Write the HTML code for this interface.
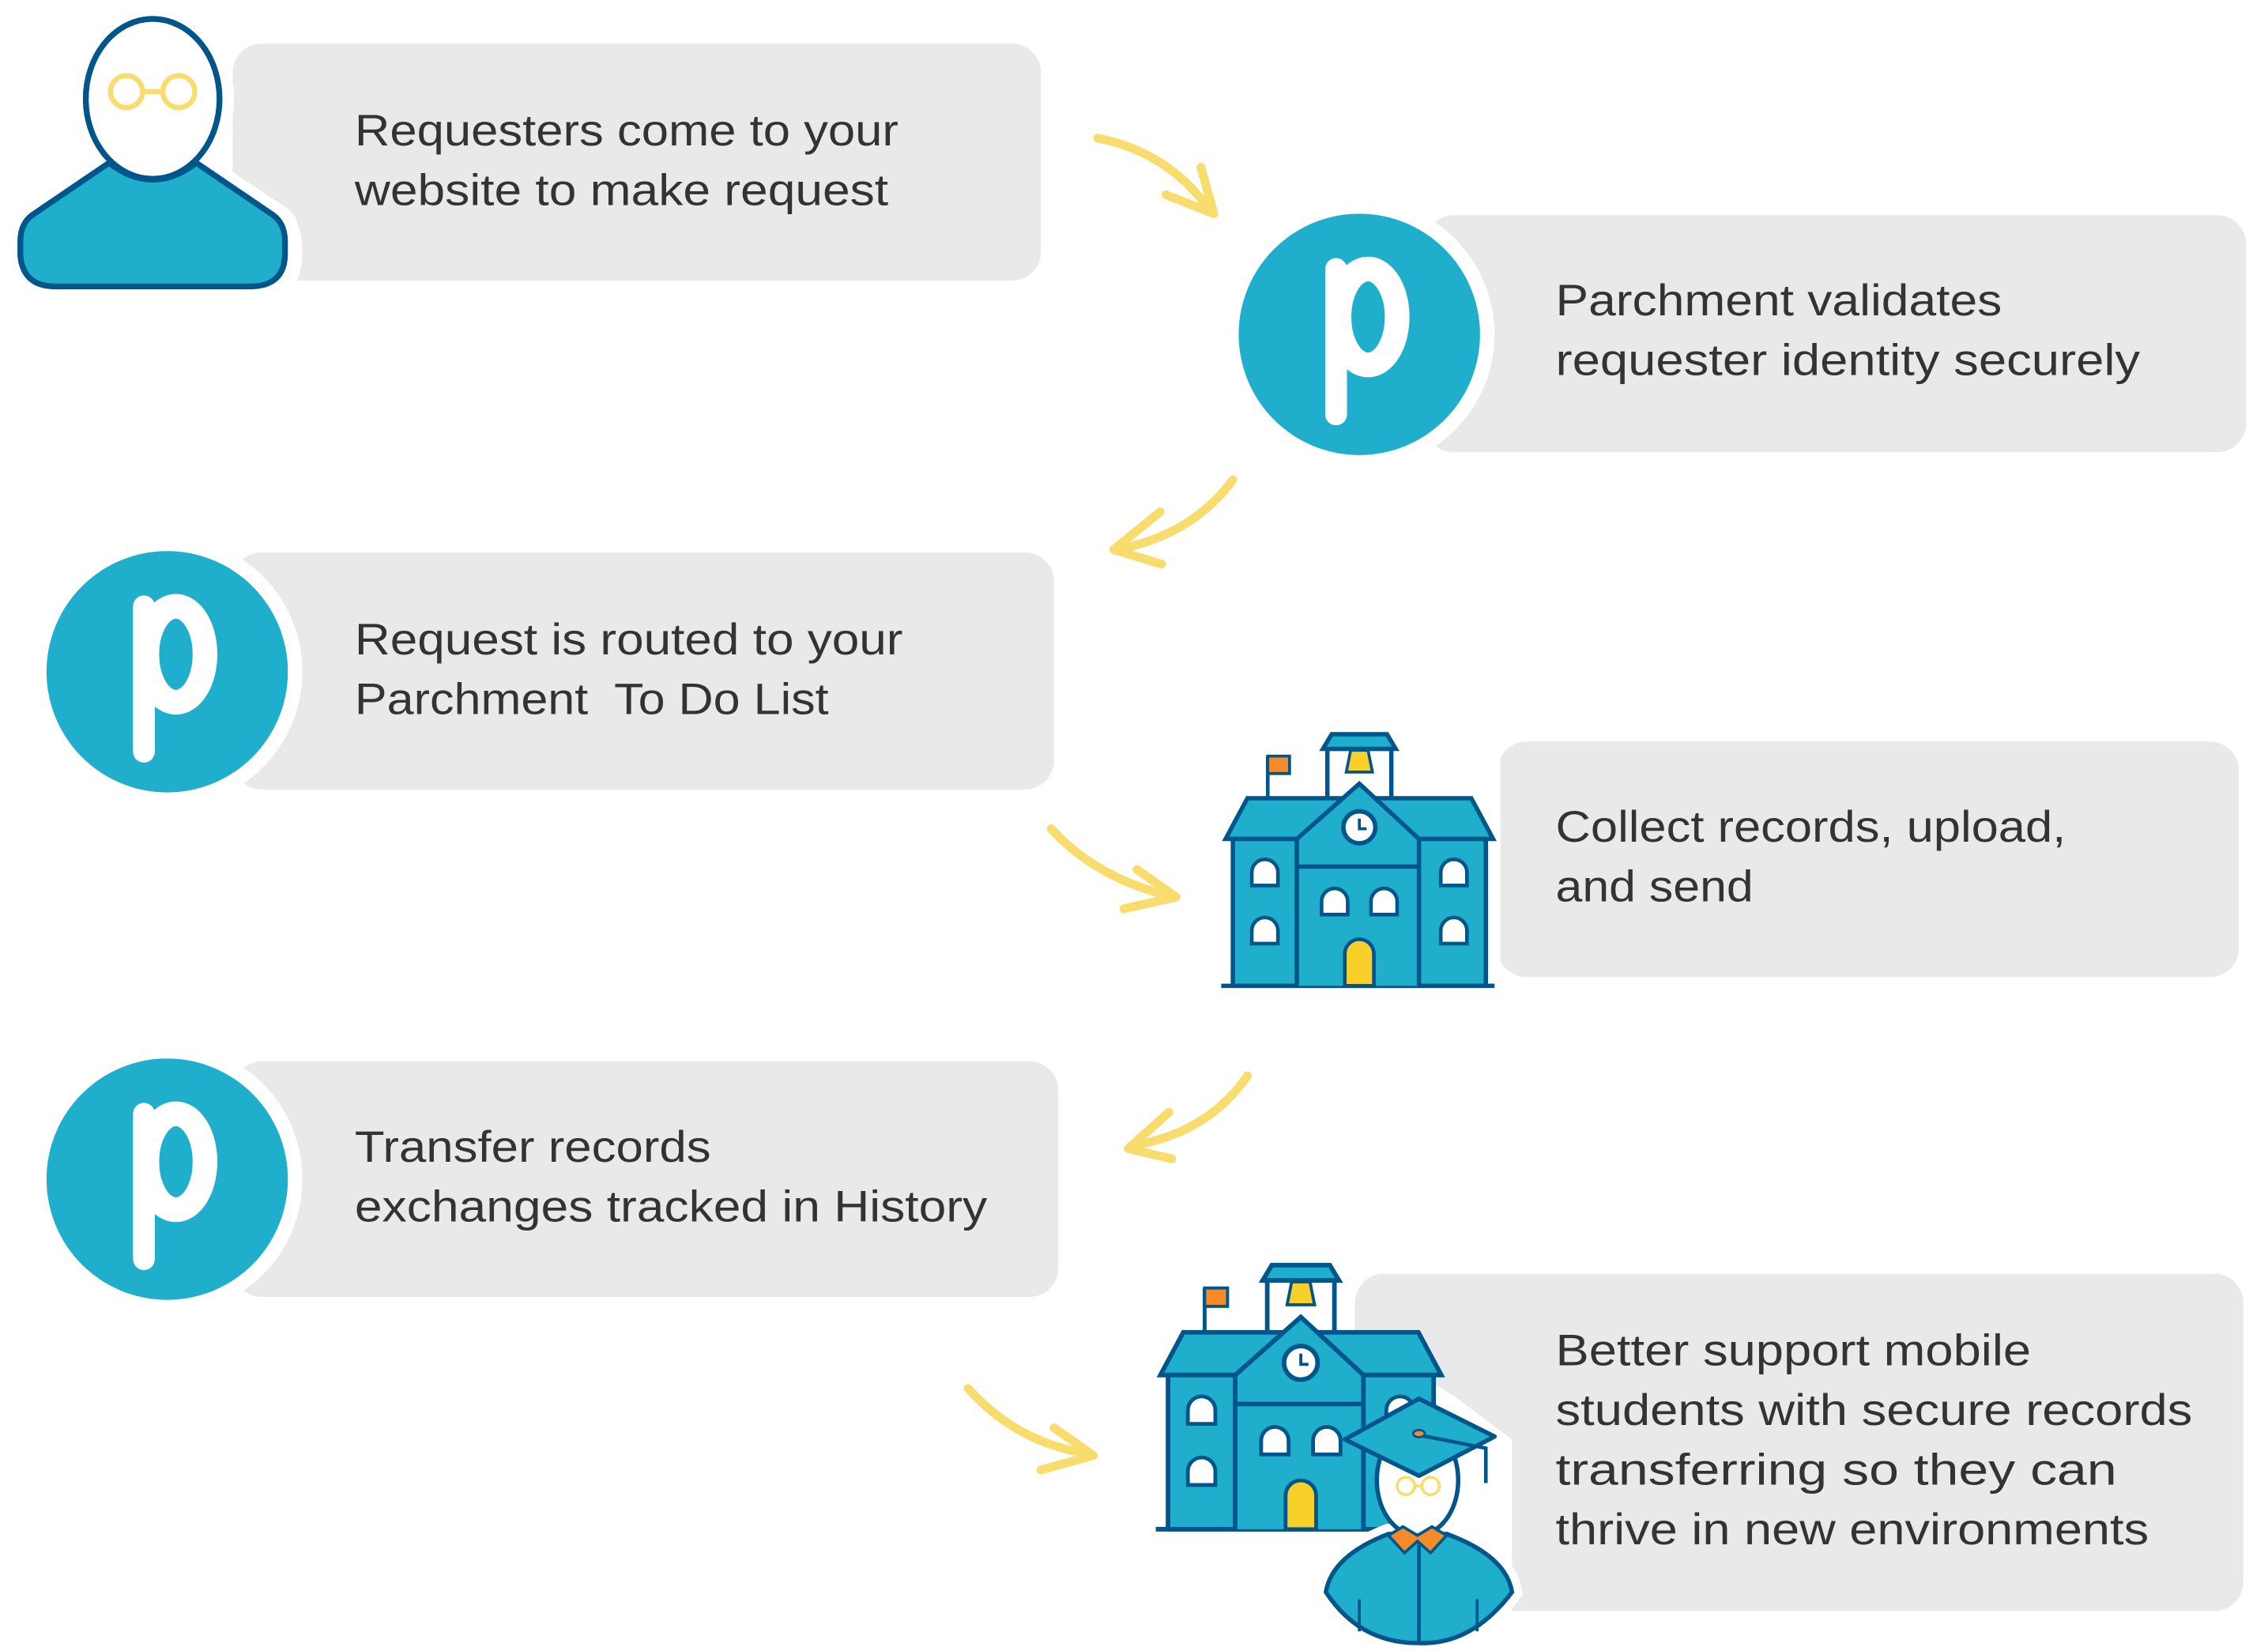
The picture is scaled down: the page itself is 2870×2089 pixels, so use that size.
<!DOCTYPE html>
<html><head><meta charset="utf-8"><style>html,body{margin:0;padding:0;background:#fff}svg{display:block}</style></head>
<body>
<svg width="2870" height="2089" viewBox="0 0 1560 1135.5" preserveAspectRatio="none" xmlns="http://www.w3.org/2000/svg">
<defs>
<g id="school">
  <line x1="0" y1="175" x2="188" y2="175" stroke="#00558A" stroke-width="3"/>
  <line x1="32" y1="17" x2="32" y2="48" stroke="#00558A" stroke-width="2.5"/>
  <path d="M32,17 h15 v12 h-15z" fill="#F58A2A" stroke="#00558A" stroke-width="2"/>
  <rect x="73" y="12" width="44" height="40" fill="#fff" stroke="#00558A" stroke-width="3"/>
  <path d="M70,12 L76,2 L114,2 L120,12Z" fill="#1FAECB" stroke="#00558A" stroke-width="3"/>
  <path d="M89,13 h12 l3,15 h-18z" fill="#F9CF2A" stroke="#00558A" stroke-width="2"/>
  <path d="M3,74 L18,46 L172,46 L187,74Z" fill="#1FAECB" stroke="#00558A" stroke-width="3"/>
  <rect x="8" y="74" width="174" height="101" fill="#1FAECB" stroke="#00558A" stroke-width="3"/>
  <path d="M52,175 V74 L95,36 L136,74 V175" fill="#1FAECB" stroke="#00558A" stroke-width="3"/>
  <line x1="52" y1="93" x2="136" y2="93" stroke="#00558A" stroke-width="3"/>
  <circle cx="95" cy="66" r="11" fill="#fff" stroke="#00558A" stroke-width="3"/>
  <path d="M95,60 v7 h5" fill="none" stroke="#00558A" stroke-width="2"/>
  <g fill="#fff" stroke="#00558A" stroke-width="2.5">
    <path d="M21,106 v-9 a9,9 0 0 1 18,0 v9z"/>
    <path d="M21,146 v-9 a9,9 0 0 1 18,0 v9z"/>
    <path d="M151,106 v-9 a9,9 0 0 1 18,0 v9z"/>
    <path d="M151,146 v-9 a9,9 0 0 1 18,0 v9z"/>
    <path d="M69,126 v-9 a9,9 0 0 1 18,0 v9z"/>
    <path d="M103,126 v-9 a9,9 0 0 1 18,0 v9z"/>
  </g>
  <path d="M85,175 v-22 a10,10 0 0 1 20,0 v22z" fill="#F9CF2A" stroke="#00558A" stroke-width="2.5"/>
</g>
<g id="pcircle">
  <circle cx="0" cy="0" r="93" fill="#fff"/>
  <circle cx="0" cy="0" r="83" fill="#1FAECB"/>
  <path d="M-16,55 V-45" stroke="#fff" stroke-width="15" stroke-linecap="round" fill="none"/>
  <ellipse cx="6" cy="-12" rx="20" ry="33" fill="none" stroke="#fff" stroke-width="17"/>
</g>
</defs>

<g fill="#E9E9E9">
  <rect x="160" y="30" width="556" height="163" rx="20"/>
  <rect x="980" y="148" width="565" height="163" rx="20"/>
  <rect x="160" y="380" width="565" height="163" rx="20"/>
  <rect x="1030" y="510" width="510" height="162" rx="20"/>
  <rect x="160" y="730" width="568" height="162" rx="20"/>
  <rect x="932" y="876" width="611" height="232" rx="20"/>
</g>

<g>
  <ellipse cx="105" cy="68" rx="56" ry="64" fill="#fff"/>
  <path d="M70,105 L10,148 Q4,158 4,175 Q6,206 35,206 L180,206 Q207,206 208,175 Q208,155 200,145 L140,105Z" fill="#fff"/>
  <path d="M75,112 L22,148 Q14,154 14,166 L14,176 Q16,197 38,197 L172,197 Q195,197 196,176 L196,166 Q196,154 188,148 L135,112 Q105,135 75,112Z" fill="#1FAECB" stroke="#00558A" stroke-width="4" stroke-linejoin="round"/>
  <ellipse cx="105" cy="68" rx="46" ry="55" fill="#fff" stroke="#00558A" stroke-width="4"/>
  <g fill="none" stroke="#F9DC6E" stroke-width="3.5"><circle cx="87" cy="63" r="11"/><circle cx="123" cy="63" r="11"/><line x1="98" y1="63" x2="112" y2="63"/></g>
</g>

<use href="#pcircle" x="935" y="230"/>
<use href="#pcircle" x="115" y="462"/>
<use href="#pcircle" x="115" y="811"/>

<rect x="1020" y="505" width="12" height="175" fill="#fff"/>
<use href="#school" x="840" y="503"/>
<path d="M900,900 L1000,960 L1040,990 L1040,1130 L900,1130Z" fill="#fff"/>
<use href="#school" x="795" y="868" transform="translate(795,868) scale(1.05) translate(-795,-868)"/>
<g>
  <path d="M912,1095 Q916,1070 955,1055 L995,1055 Q1036,1070 1040,1095 Q1012,1132 975,1130 Q935,1130 912,1095Z" fill="#fff" stroke="#fff" stroke-width="14"/>
  <path d="M912,1095 Q916,1070 955,1055 L995,1055 Q1036,1070 1040,1095 Q1012,1132 975,1130 Q935,1130 912,1095Z" fill="#1FAECB" stroke="#00558A" stroke-width="3"/>
  <line x1="976" y1="1062" x2="976" y2="1130" stroke="#00558A" stroke-width="2.5"/>
  <line x1="935" y1="1100" x2="935" y2="1122" stroke="#00558A" stroke-width="2"/>
  <line x1="1016" y1="1100" x2="1016" y2="1122" stroke="#00558A" stroke-width="2"/>
  <ellipse cx="975" cy="1018" rx="28" ry="38" fill="#fff" stroke="#00558A" stroke-width="3"/>
  <path d="M955,1056 L966,1068 L975,1060 L984,1068 L995,1056 L985,1050 L975,1056 L965,1050Z" fill="#F58A2A" stroke="#00558A" stroke-width="2"/>
  <g fill="none" stroke="#F9DC6E" stroke-width="2"><circle cx="967" cy="1022" r="6"/><circle cx="984" cy="1022" r="6"/><line x1="973" y1="1022" x2="978" y2="1022"/></g>
  <path d="M925,990 L976,962 L1028,988 L976,1015Z" fill="#1FAECB" stroke="#00558A" stroke-width="3" stroke-linejoin="round"/>
  <path d="M976,987 L1022,996 L1022,1020" fill="none" stroke="#00558A" stroke-width="2.5"/>
  <ellipse cx="976" cy="986" rx="4" ry="2.5" fill="#F58A2A" stroke="#00558A" stroke-width="1.5"/>
</g>

<g fill="none" stroke="#F9DC6E" stroke-width="6" stroke-linecap="round" stroke-linejoin="round">
  <path d="M755,95 Q805,105 833,146"/><path d="M826,115 L835,147 L802,134"/>
  <path d="M848,330 Q820,368 768,378"/><path d="M798,352 L766,378 L799,388"/>
  <path d="M723,570 Q755,605 808,617"/><path d="M782,598 L809,617 L773,625"/>
  <path d="M858,740 Q830,780 778,788"/><path d="M804,765 L776,790 L806,797"/>
  <path d="M666,955 Q700,993 750,1000"/><path d="M725,982 L752,1001 L716,1011"/>
</g>

<g font-family="'Liberation Sans', sans-serif" font-size="30" fill="#333">
  <text x="244" y="100" textLength="374" lengthAdjust="spacingAndGlyphs">Requesters come to your</text>
  <text x="244" y="141" textLength="367" lengthAdjust="spacingAndGlyphs">website to make request</text>
  <text x="1070" y="217" textLength="307" lengthAdjust="spacingAndGlyphs">Parchment validates</text>
  <text x="1070" y="258" textLength="402" lengthAdjust="spacingAndGlyphs">requester identity securely</text>
  <text x="244" y="450" textLength="377" lengthAdjust="spacingAndGlyphs">Request is routed to your</text>
  <text x="244" y="491" textLength="326" lengthAdjust="spacingAndGlyphs" xml:space="preserve">Parchment  To Do List</text>
  <text x="1070" y="579" textLength="351" lengthAdjust="spacingAndGlyphs">Collect records, upload,</text>
  <text x="1070" y="620" textLength="136" lengthAdjust="spacingAndGlyphs">and send</text>
  <text x="244" y="799" textLength="245" lengthAdjust="spacingAndGlyphs">Transfer records</text>
  <text x="244" y="840" textLength="435" lengthAdjust="spacingAndGlyphs">exchanges tracked in History</text>
  <text x="1070" y="939" textLength="327" lengthAdjust="spacingAndGlyphs">Better support mobile</text>
  <text x="1070" y="980" textLength="438" lengthAdjust="spacingAndGlyphs">students with secure records</text>
  <text x="1070" y="1021" textLength="386" lengthAdjust="spacingAndGlyphs">transferring so they can</text>
  <text x="1070" y="1062" textLength="408" lengthAdjust="spacingAndGlyphs">thrive in new environments</text>
</g>
</svg>
</body></html>
